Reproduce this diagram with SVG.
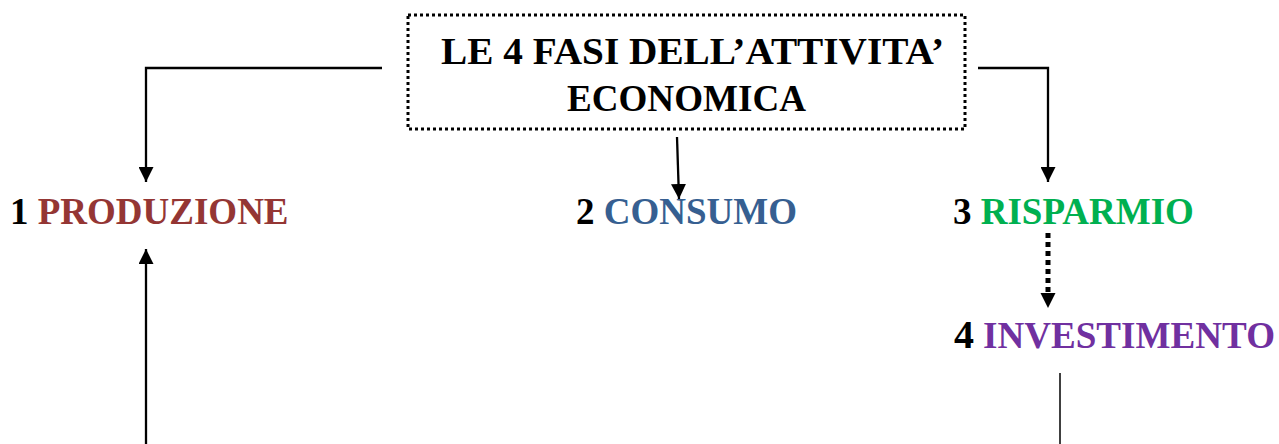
<svg xmlns="http://www.w3.org/2000/svg" width="1279" height="444" viewBox="0 0 1279 444">
<style>
text{font-family:"Liberation Serif","Times New Roman",serif;font-weight:bold;}
.t{font-size:38px;fill:#000;}
.l{font-size:37px;}
.n{fill:#000;}
.c{fill:none;stroke:#000;stroke-width:2.3;}
</style>
<defs>
<marker id="ah" viewBox="0 0 10 10" refX="10" refY="5" markerWidth="15" markerHeight="15" markerUnits="userSpaceOnUse" orient="auto">
<path d="M0,0 L10,5 L0,10 Z" fill="#000"/>
</marker>
</defs>
<rect width="1279" height="444" fill="#fff"/>
<g id="title">
<rect x="408" y="15" width="557" height="114" fill="none" stroke="#000" stroke-width="3" stroke-dasharray="3 3"/>
<text class="t" x="441" y="64" textLength="503" lengthAdjust="spacingAndGlyphs">LE 4 FASI DELL’ATTIVITA’</text>
<text class="t" x="567" y="111" textLength="239" lengthAdjust="spacingAndGlyphs">ECONOMICA</text>
</g>
<g id="produzione">
<text class="l" x="10" y="224"><tspan class="n">1</tspan> <tspan fill="#943634">PRODUZIONE</tspan></text>
</g>
<g id="consumo">
<text class="l" x="576" y="224"><tspan class="n">2</tspan> <tspan fill="#365F91">CONSUMO</tspan></text>
</g>
<g id="risparmio">
<text class="l" x="953" y="224"><tspan class="n">3</tspan> <tspan fill="#00B050">RISPARMIO</tspan></text>
</g>
<g id="investimento">
<text x="954" y="348" style="font-size:40px" class="n">4</text>
<text class="l" x="983" y="348" fill="#7030A0" textLength="292" lengthAdjust="spacingAndGlyphs">INVESTIMENTO</text>
</g>
<g id="connectors">
<path class="c" d="M382,68 H146 V182" marker-end="url(#ah)"/>
<path class="c" d="M677,137 L679,199" marker-end="url(#ah)"/>
<path class="c" d="M978,68 H1048 V182" marker-end="url(#ah)"/>
<path d="M1048,233 V293" fill="none" stroke="#000" stroke-width="5" stroke-dasharray="5 4"/>
<path d="M1040.5,293 H1055.5 L1048,308 Z" fill="#000"/>
<path class="c" d="M146,444 V249" marker-end="url(#ah)"/>
<path d="M1060,373 V444" fill="none" stroke="#000" stroke-width="1.5"/>
</g>
</svg>
